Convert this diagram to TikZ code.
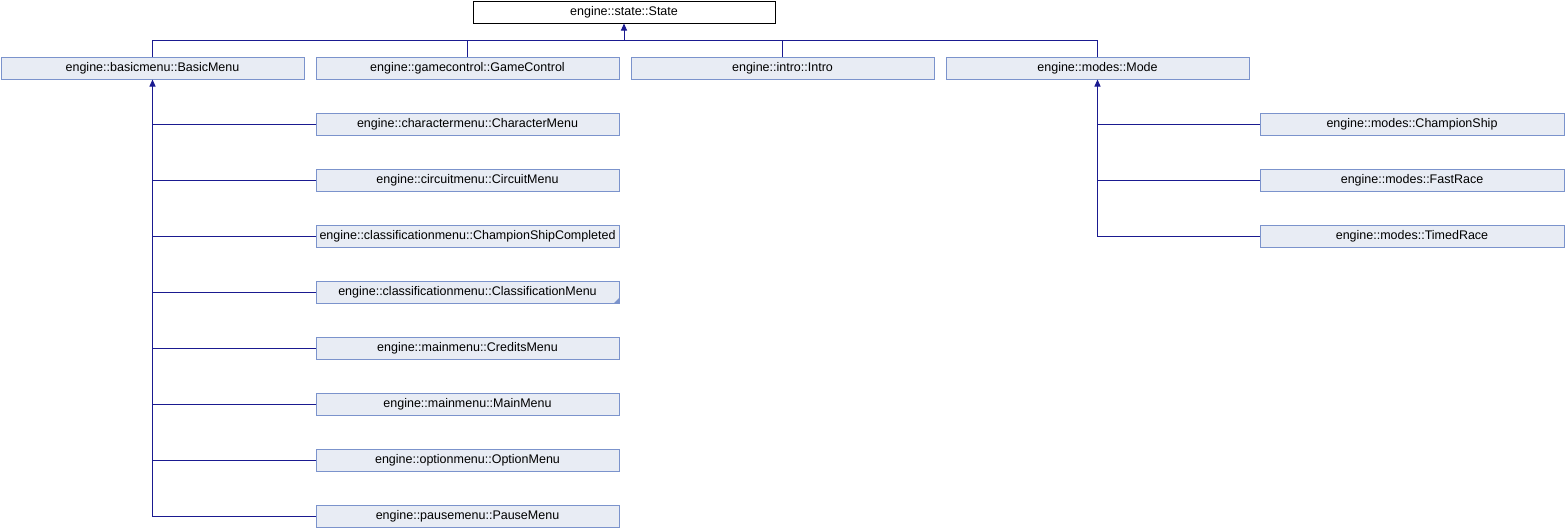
\documentclass[tikz,border=0pt]{standalone}
\usepackage{fontspec}
\setmainfont{Liberation Sans}
\usetikzlibrary{arrows.meta}
\definecolor{boxfill}{HTML}{E8ECF4}
\definecolor{boxline}{HTML}{7B93CC}
\definecolor{edgecol}{HTML}{1A1A90}
\tikzset{
  cls/.style={draw=boxline, fill=boxfill, line width=1pt, inner sep=0pt,
    minimum width=303pt, minimum height=22pt, font=\fontsize{12.5}{14}\selectfont},
  rootcls/.style={cls, draw=black, fill=white},
  edge/.style={draw=edgecol, line width=1pt},
  inh/.style={edge, {Triangle[length=7pt,width=6pt]}-}
}
\begin{document}
\begin{tikzpicture}[x=1pt,y=-1pt]
\useasboundingbox (0,0) rectangle (1565,528);
\node[rootcls, minimum width=302pt] (state) at (624,12) {engine::state::State};
\node[cls] (bm) at (152.5,68) {engine::basicmenu::BasicMenu};
\node[cls] (gc) at (467.5,68) {engine::gamecontrol::GameControl};
\node[cls] (intro) at (782.5,68) {engine::intro::Intro};
\node[cls] (mode) at (1097.5,68) {engine::modes::Mode};
\node[cls] (chm) at (467.5,124) {engine::charactermenu::CharacterMenu};
\node[cls] (cim) at (467.5,180) {engine::circuitmenu::CircuitMenu};
\node[cls] (csc) at (467.5,236) {engine::classificationmenu::ChampionShipCompleted};
\node[cls] (clm) at (467.5,292) {engine::classificationmenu::ClassificationMenu};
\node[cls] (crm) at (467.5,348) {engine::mainmenu::CreditsMenu};
\node[cls] (mm) at (467.5,404) {engine::mainmenu::MainMenu};
\node[cls] (om) at (467.5,460) {engine::optionmenu::OptionMenu};
\node[cls] (pm) at (467.5,516) {engine::pausemenu::PauseMenu};
\node[cls, minimum width=304pt] (cs) at (1412,124) {engine::modes::ChampionShip};
\node[cls, minimum width=304pt] (fr) at (1412,180) {engine::modes::FastRace};
\node[cls, minimum width=304pt] (tr) at (1412,236) {engine::modes::TimedRace};
\fill[boxline] (clm.south east) -- ++(-6,0) -- ++(6,-6) -- cycle;
% inheritance from State
\coordinate (bus) at (624,40);
\draw[inh] (state.south) -- (bus);
\draw[edge] (bm.north) |- (bus);
\draw[edge] (mode.north) |- (bus);
\draw[edge] (gc.north) -- (gc.north |- bus);
\draw[edge] (intro.north) -- (intro.north |- bus);
% BasicMenu children
\draw[inh] (bm.south) |- (pm.west);
\foreach \n in {chm,cim,csc,clm,crm,mm,om}
  \draw[edge] (\n.west) -- (\n.west -| bm.south);
% Mode children
\draw[inh] (mode.south) |- (tr.west);
\foreach \n in {cs,fr}
  \draw[edge] (\n.west) -- (\n.west -| mode.south);
\end{tikzpicture}
\end{document}
